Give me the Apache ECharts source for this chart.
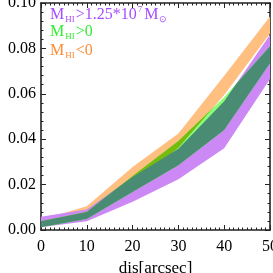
<!DOCTYPE html>
<html>
<head>
<meta charset="utf-8">
<script src="https://cdn.jsdelivr.net/npm/echarts@6/dist/echarts.min.js"></script>
<style>
html,body{margin:0;padding:0;background:#fff;}
#c{width:273px;height:273px;}
</style>
</head>
<body>
<div id="c"></div>
<script>
// x positions [arcsec]
var xs = [0, 10, 20, 30, 40, 50];
// band: M_HI > 1.25e7 Msun (purple)
var purpleLow  = [0.0012, 0.0038, 0.0124, 0.0224, 0.0360, 0.0665];
var purpleHigh = [0.0058, 0.0090, 0.0233, 0.0358, 0.0567, 0.0860];
// band: M_HI > 0 (green)
var greenLow   = [0.0012, 0.0049, 0.0167, 0.0285, 0.0440, 0.0735];
var greenHigh  = [0.0038, 0.0079, 0.0238, 0.0392, 0.0585, 0.0810];
// band: M_HI < 0 (orange)
var orangeLow  = [0.0020, 0.0060, 0.0200, 0.0362, 0.0595, 0.0866];
var orangeHigh = [0.0045, 0.0105, 0.0277, 0.0425, 0.0680, 0.0940];
// y tick labels
var yTicks = ['0.00', '0.02', '0.04', '0.06', '0.08', '0.10'];

var FONT = 'Liberation Serif';

function polyPts(api, lo, hi) {
  var pts = [];
  for (var i = 0; i < xs.length; i++) pts.push(api.coord([xs[i], hi[i]]));
  for (var j = xs.length - 1; j >= 0; j--) pts.push(api.coord([xs[j], lo[j]]));
  return pts;
}

function band(lo, hi, color, clipLo, clipHi) {
  return {
    type: 'custom',
    coordinateSystem: 'cartesian2d',
    xAxisIndex: 0, yAxisIndex: 0,
    data: [[0, 0]],
    encode: {x: 0, y: 1},
    silent: true,
    clip: true,
    renderItem: function (params, api) {
      var el = {type: 'polygon', shape: {points: polyPts(api, lo, hi)}, style: {fill: color}};
      if (clipLo) el.clipPath = {type: 'polygon', shape: {points: polyPts(api, clipLo, clipHi)}};
      return {type: 'group', children: [el]};
    }
  };
}

var tickStyle = {color: '#222', width: 1};
function mk(extra) {
  return Object.assign({
    type: 'value',
    axisLine: {show: true, onZero: false, lineStyle: {color: '#222', width: 1.6}},
    axisTick: {show: true, inside: true, length: 5, lineStyle: tickStyle},
    splitLine: {show: false},
    minorSplitLine: {show: false}
  }, extra);
}

var chart = echarts.init(document.getElementById('c'), null, {renderer: 'canvas'});
chart.setOption({
  animation: false,
  backgroundColor: '#fff',
  grid: {left: 41, right: 3, top: 3, bottom: 43, containLabel: false, outerBoundsMode: 'none'},
  xAxis: [
    mk({position: 'bottom', min: 0, max: 50, interval: 10,
        minorTick: {show: true, splitNumber: 10, length: 2.5, lineStyle: tickStyle},
        axisLabel: {show: true, color: '#000', fontFamily: FONT, fontSize: 16, margin: 9, hideOverlap: false},
        name: 'dis[arcsec]', nameLocation: 'middle', nameGap: 25,
        nameTextStyle: {color: '#000', fontFamily: FONT, fontSize: 17}}),
    mk({position: 'top', min: 0, max: 50, interval: 10,
        minorTick: {show: true, splitNumber: 10, length: 2.5, lineStyle: tickStyle},
        axisLabel: {show: false}})
  ],
  yAxis: [
    mk({position: 'left', min: 0, max: 0.1, interval: 0.02,
        minorTick: {show: true, splitNumber: 5, length: 2.5, lineStyle: tickStyle},
        axisLabel: {show: true, color: '#000', fontFamily: FONT, fontSize: 16, margin: 5,
          formatter: function (v) { return yTicks[Math.round(v / 0.02)]; }}}),
    mk({position: 'right', min: 0, max: 0.1, interval: 0.02,
        minorTick: {show: true, splitNumber: 5, length: 2.5, lineStyle: tickStyle},
        axisLabel: {show: false}})
  ],
  series: [
    band(orangeLow, orangeHigh, '#FFBF80'),
    band(purpleLow, purpleHigh, '#CC88F4'),
    band(greenLow, greenHigh, '#88FF77'),
    band(greenLow, greenHigh, '#77BB11', orangeLow, orangeHigh),
    band(greenLow, greenHigh, '#4A8C73', purpleLow, purpleHigh)
  ],
  graphic: [
    {type: 'text', left: 50, top: 5, z: 100, style: {
      text: '{m|M}{s|HI}{m|>1.25*10}{p|7}{m|M}{s|\u2299}',
      rich: {
        m: {fontFamily: FONT, fontSize: 16, lineHeight: 19, verticalAlign: 'middle', fill: '#A64DFF'},
        s: {fontFamily: FONT, fontSize: 9, lineHeight: 9, verticalAlign: 'bottom', fill: '#A64DFF', padding: [0, 1, 0, 1]},
        p: {fontFamily: FONT, fontSize: 9, lineHeight: 9, verticalAlign: 'top', fill: '#A64DFF', padding: [0, 2, 0, 1]}
      }}},
    {type: 'text', left: 50, top: 24, z: 100, style: {
      text: '{m|M}{s|HI}{m|>0}',
      rich: {
        m: {fontFamily: FONT, fontSize: 16, lineHeight: 19, verticalAlign: 'middle', fill: '#33EE33'},
        s: {fontFamily: FONT, fontSize: 9, lineHeight: 9, verticalAlign: 'bottom', fill: '#33EE33', padding: [0, 1, 0, 1]}
      }}},
    {type: 'text', left: 50, top: 43, z: 100, style: {
      text: '{m|M}{s|HI}{m|<0}',
      rich: {
        m: {fontFamily: FONT, fontSize: 16, lineHeight: 19, verticalAlign: 'middle', fill: '#FF8C33'},
        s: {fontFamily: FONT, fontSize: 9, lineHeight: 9, verticalAlign: 'bottom', fill: '#FF8C33', padding: [0, 1, 0, 1]}
      }}}
  ]
});
</script>
</body>
</html>
